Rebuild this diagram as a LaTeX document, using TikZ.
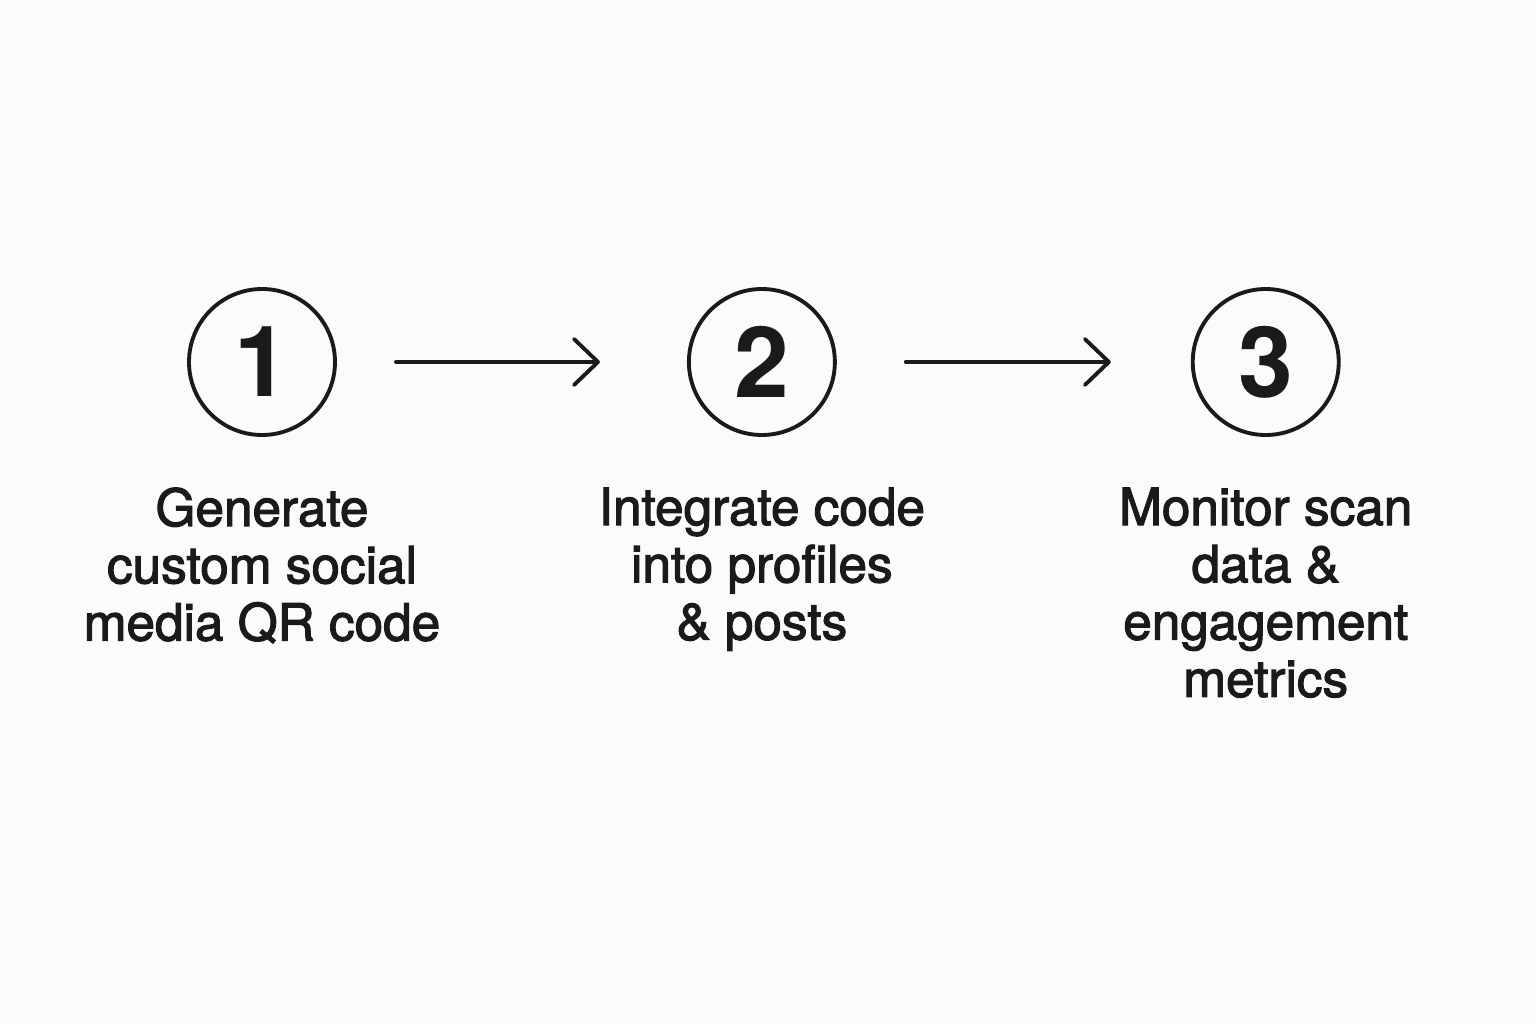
\documentclass[tikz,border=0pt]{standalone}
\usepackage{fontspec}
\setmainfont{TeX Gyre Heros}
\newfontfamily\capfont{TeX Gyre Heros}[FakeBold=2.2]
\usetikzlibrary{arrows.meta, positioning}
\definecolor{ink}{HTML}{1A1A1A}
\definecolor{paper}{HTML}{FBFBFB}

\begin{document}
\begin{tikzpicture}[
    stepcirc/.style={circle, draw=ink, line width=1.1pt, minimum size=1.46cm, inner sep=0pt,
      text=ink, font=\fontsize{28}{28}\selectfont\bfseries},
    caption/.style={align=center, text=ink, inner sep=0pt,
      font=\capfont\fontsize{14.6}{16.3}\selectfont},
    flow/.style={draw=ink, line width=1.1pt, line cap=round,
      -{Straight Barb[length=0.24cm, width=0.46cm, line cap=round, round]}}
  ]
  \fill[paper] (0,0) rectangle (15.36,10.24);
  \useasboundingbox (0,0) rectangle (15.36,10.24);

  % steps
  \node (s1) [stepcirc] at (2.62,6.62) {1};
  \node (s2) [stepcirc, right=3.50cm of s1] {2};
  \node (s3) [stepcirc, right=3.54cm of s2] {3};

  % captions
  \node (t1) [caption, below=0.5cm of s1] {Generate\\custom social\\media QR code};
  \node (t2) [caption, below=0.5cm of s2] {Integrate code\\into profiles\\\& posts};
  \node (t3) [caption, below=0.5cm of s3] {Monitor scan\\data \&\\engagement\\metrics};

  % arrows
  \draw[flow] ([xshift=0.59cm]s1.east) -- ([xshift=-0.87cm]s2.west);
  \draw[flow] ([xshift=0.69cm]s2.east) -- ([xshift=-0.80cm]s3.west);
\end{tikzpicture}
\end{document}
